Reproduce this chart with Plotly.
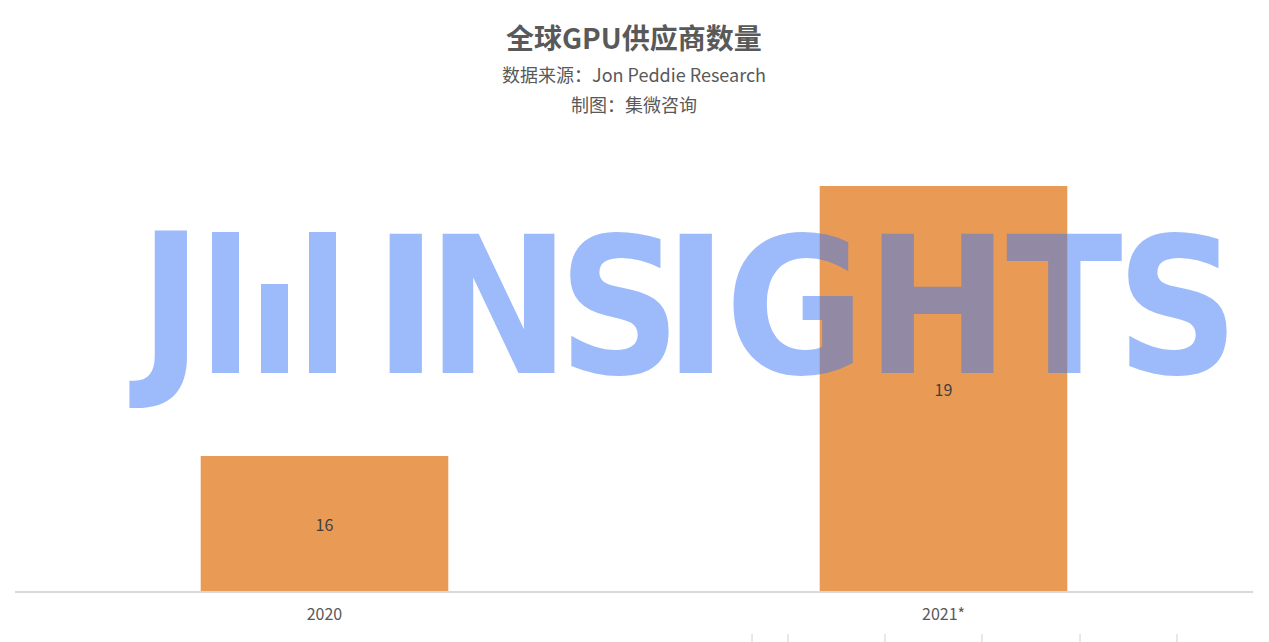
import plotly.graph_objects as go

# ---- data ----
categories = ["2020", "2021*"]
vendor_counts = [16, 19]
axis_floor = 14.5
axis_ceiling = 19.5

title_text = "全球GPU供应商数量"
source_text = "数据来源：Jon Peddie Research"
maker_text = "制图：集微咨询"

watermark_letters = ["I", "N", "S", "I", "G", "H", "T", "S"]
watermark_centers_px = [406, 498, 619, 696, 795, 937, 1064, 1177]

# ---- layout geometry (pixels) ----
W, H = 1269, 642
ML, MR, MT, MB = 15, 16, 141, 51
PW = W - ML - MR
PH = H - MT - MB


def px_x(p):
    return (p - ML) / PW


def px_y(p):
    return (H - MB - p) / PH


BAR_COLOR = "#E99A55"
WM_COLOR = "rgba(60,120,245,0.5)"
TXT = "#595959"
CJK = "Noto Sans CJK SC, Noto Sans, sans-serif"
WM_FONT = "DejaVu Sans Condensed, Liberation Sans Narrow, DejaVu Sans, sans-serif"
WM_SIZE = 190

fig = go.Figure()
fig.add_trace(go.Bar(
    x=categories,
    y=[v - axis_floor for v in vendor_counts],
    base=axis_floor,
    text=[str(v) for v in vendor_counts],
    textposition="inside",
    insidetextanchor="middle",
    textangle=0,
    textfont=dict(family=CJK, size=16, color="#404040"),
    marker=dict(color=BAR_COLOR, line=dict(width=0)),
    hoverinfo="skip",
))

annotations = [
    dict(text=f"<b>{title_text}</b>", x=0.5, y=px_y(37), xref="paper", yref="paper",
         showarrow=False, font=dict(family=CJK, size=28, color=TXT), xanchor="center", yanchor="middle"),
    dict(text=source_text, x=0.5, y=px_y(74), xref="paper", yref="paper",
         showarrow=False, font=dict(family=CJK, size=18, color=TXT), xanchor="center", yanchor="middle"),
    dict(text=maker_text, x=0.5, y=px_y(104), xref="paper", yref="paper",
         showarrow=False, font=dict(family=CJK, size=18, color=TXT), xanchor="center", yanchor="middle"),
]

wm_y = px_y(307)
annotations.append(dict(text="<b>J</b>", x=px_x(166), y=px_y(304), xref="paper", yref="paper",
                        showarrow=False, font=dict(family=WM_FONT, size=WM_SIZE, color=WM_COLOR),
                        xanchor="center", yanchor="middle"))
for ch, cx in zip(watermark_letters, watermark_centers_px):
    annotations.append(dict(text=f"<b>{ch}</b>", x=px_x(cx), y=wm_y, xref="paper", yref="paper",
                            showarrow=False, font=dict(family=WM_FONT, size=WM_SIZE, color=WM_COLOR),
                            xanchor="center", yanchor="middle"))

shapes = []
# logo bars (decorative)
for x0, x1, y0 in [(212, 239, 232), (261, 288, 284), (309, 336, 232)]:
    shapes.append(dict(type="rect", xref="paper", yref="paper",
                       x0=px_x(x0), x1=px_x(x1), y0=px_y(373), y1=px_y(y0),
                       fillcolor=WM_COLOR, line=dict(width=0), layer="above"))
# small cut-off tick marks at the bottom edge
for tx in [752, 788, 885, 982, 1080, 1177]:
    shapes.append(dict(type="line", xref="paper", yref="paper",
                       x0=px_x(tx), x1=px_x(tx), y0=px_y(634), y1=px_y(643),
                       line=dict(color="#D0D0D0", width=1)))

fig.update_layout(
    width=W, height=H,
    margin=dict(l=ML, r=MR, t=MT, b=MB),
    paper_bgcolor="white", plot_bgcolor="white",
    showlegend=False,
    bargap=0.6,
    annotations=annotations,
    shapes=shapes,
    xaxis=dict(showline=True, linecolor="#D9D9D9", linewidth=1.5,
               ticks="outside", ticklen=8, tickcolor="rgba(0,0,0,0)",
               tickfont=dict(family=CJK, size=16, color=TXT), showgrid=False),
    yaxis=dict(range=[axis_floor, axis_ceiling], visible=False, showgrid=False, zeroline=False),
)

fig.write_html("out.html",
               config={"displayModeBar": False},
               post_script="document.body.style.margin='0';document.body.style.overflow='hidden';")
